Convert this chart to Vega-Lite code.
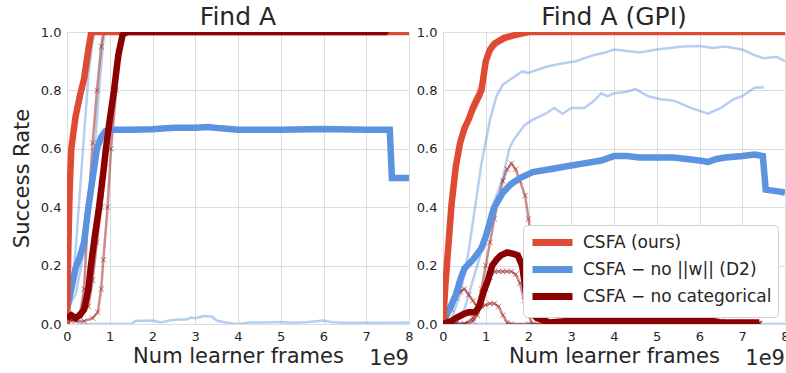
{
"$schema": "https://vega.github.io/schema/vega-lite/v6.json",
"padding": {"left": 10, "top": 4, "right": 0, "bottom": 0},
"bounds": "flush",
"spacing": 34,
"background": "white",
"config": {
 "font": "DejaVu Sans",
 "view": {"stroke": "#d4d4d4", "strokeWidth": 1},
 "axis": {"grid": true, "gridColor": "#dcdcdc", "domain": false, "ticks": false, "labelFontSize": 13, "labelColor": "#262626", "titleFontSize": 21, "titleFontWeight": "normal", "titleColor": "#262626", "labelPadding": 6, "labelFlush": false, "labelOverlap": false},
 "title": {"fontSize": 25, "fontWeight": "normal", "color": "#262626", "offset": -4},
 "legend": {"orient": "bottom-right", "offset": 7, "fillColor": "white", "strokeColor": "#d0d0d0", "cornerRadius": 4, "padding": 6, "symbolType": "M-1,0L4,0", "symbolSize": 256, "symbolStrokeWidth": 7, "labelFontSize": 17, "labelColor": "#262626", "labelLimit": 400, "rowPadding": -2, "labelOffset": 31, "symbolOpacity": 1}
},
"datasets": {"d": [
{"p":"A","m":"B","s":"b1","x":0,"y":0.05},{"p":"A","m":"B","s":"b1","x":0.1,"y":0.1},{"p":"A","m":"B","s":"b1","x":0.2,"y":0.25},{"p":"A","m":"B","s":"b1","x":0.3,"y":0.45},{"p":"A","m":"B","s":"b1","x":0.4,"y":0.65},{"p":"A","m":"B","s":"b1","x":0.5,"y":0.85},{"p":"A","m":"B","s":"b1","x":0.6,"y":0.97},{"p":"A","m":"B","s":"b1","x":0.65,"y":1},{"p":"A","m":"B","s":"b1","x":7.55,"y":1},
{"p":"A","m":"B","s":"b2","x":0,"y":0.05},{"p":"A","m":"B","s":"b2","x":0.2,"y":0.1},{"p":"A","m":"B","s":"b2","x":0.4,"y":0.25},{"p":"A","m":"B","s":"b2","x":0.6,"y":0.5},{"p":"A","m":"B","s":"b2","x":0.75,"y":0.8},{"p":"A","m":"B","s":"b2","x":0.85,"y":0.97},{"p":"A","m":"B","s":"b2","x":0.9,"y":1},{"p":"A","m":"B","s":"b2","x":8,"y":1},
{"p":"A","m":"B","s":"b3","x":0,"y":0.05},{"p":"A","m":"B","s":"b3","x":0.2,"y":0.01},{"p":"A","m":"B","s":"b3","x":0.4,"y":0},{"p":"A","m":"B","s":"b3","x":1.0,"y":0},{"p":"A","m":"B","s":"b3","x":1.5,"y":0},{"p":"A","m":"B","s":"b3","x":1.6,"y":0.01},{"p":"A","m":"B","s":"b3","x":2.0,"y":0.012},{"p":"A","m":"B","s":"b3","x":2.2,"y":0.005},{"p":"A","m":"B","s":"b3","x":2.4,"y":0.012},{"p":"A","m":"B","s":"b3","x":2.6,"y":0.015},{"p":"A","m":"B","s":"b3","x":2.8,"y":0.015},{"p":"A","m":"B","s":"b3","x":2.9,"y":0.022},{"p":"A","m":"B","s":"b3","x":3.0,"y":0.02},{"p":"A","m":"B","s":"b3","x":3.2,"y":0.027},{"p":"A","m":"B","s":"b3","x":3.4,"y":0.025},{"p":"A","m":"B","s":"b3","x":3.5,"y":0.012},{"p":"A","m":"B","s":"b3","x":3.7,"y":0.005},{"p":"A","m":"B","s":"b3","x":4.0,"y":0},{"p":"A","m":"B","s":"b3","x":4.3,"y":0.005},{"p":"A","m":"B","s":"b3","x":4.6,"y":0.005},{"p":"A","m":"B","s":"b3","x":5.0,"y":0.007},{"p":"A","m":"B","s":"b3","x":5.3,"y":0.004},{"p":"A","m":"B","s":"b3","x":5.6,"y":0.006},{"p":"A","m":"B","s":"b3","x":6.0,"y":0.012},{"p":"A","m":"B","s":"b3","x":6.2,"y":0.006},{"p":"A","m":"B","s":"b3","x":6.5,"y":0.004},{"p":"A","m":"B","s":"b3","x":7.0,"y":0.004},{"p":"A","m":"B","s":"b3","x":7.5,"y":0.004},{"p":"A","m":"B","s":"b3","x":8,"y":0.005},
{"p":"A","m":"B","s":"m","x":0,"y":0.05},{"p":"A","m":"B","s":"m","x":0.1,"y":0.12},{"p":"A","m":"B","s":"m","x":0.2,"y":0.19},{"p":"A","m":"B","s":"m","x":0.3,"y":0.23},{"p":"A","m":"B","s":"m","x":0.4,"y":0.28},{"p":"A","m":"B","s":"m","x":0.5,"y":0.4},{"p":"A","m":"B","s":"m","x":0.6,"y":0.5},{"p":"A","m":"B","s":"m","x":0.7,"y":0.6},{"p":"A","m":"B","s":"m","x":0.8,"y":0.64},{"p":"A","m":"B","s":"m","x":0.9,"y":0.66},{"p":"A","m":"B","s":"m","x":1.0,"y":0.665},{"p":"A","m":"B","s":"m","x":1.5,"y":0.665},{"p":"A","m":"B","s":"m","x":2.0,"y":0.667},{"p":"A","m":"B","s":"m","x":2.5,"y":0.672},{"p":"A","m":"B","s":"m","x":3.0,"y":0.672},{"p":"A","m":"B","s":"m","x":3.3,"y":0.675},{"p":"A","m":"B","s":"m","x":3.6,"y":0.67},{"p":"A","m":"B","s":"m","x":4.0,"y":0.665},{"p":"A","m":"B","s":"m","x":5.0,"y":0.665},{"p":"A","m":"B","s":"m","x":6.0,"y":0.668},{"p":"A","m":"B","s":"m","x":7.0,"y":0.665},{"p":"A","m":"B","s":"m","x":7.55,"y":0.665},{"p":"A","m":"B","s":"m","x":7.6,"y":0.5},{"p":"A","m":"B","s":"m","x":8,"y":0.5},
{"p":"A","m":"R","s":"r1","x":0,"y":0},{"p":"A","m":"R","s":"r1","x":0.03,"y":0.3},{"p":"A","m":"R","s":"r1","x":0.06,"y":0.5},{"p":"A","m":"R","s":"r1","x":0.1,"y":0.63},{"p":"A","m":"R","s":"r1","x":0.2,"y":0.72},{"p":"A","m":"R","s":"r1","x":0.3,"y":0.79},{"p":"A","m":"R","s":"r1","x":0.4,"y":0.85},{"p":"A","m":"R","s":"r1","x":0.5,"y":0.95},{"p":"A","m":"R","s":"r1","x":0.55,"y":1},{"p":"A","m":"R","s":"r1","x":8,"y":1},
{"p":"A","m":"R","s":"r2","x":0,"y":0},{"p":"A","m":"R","s":"r2","x":0.03,"y":0.2},{"p":"A","m":"R","s":"r2","x":0.06,"y":0.4},{"p":"A","m":"R","s":"r2","x":0.1,"y":0.55},{"p":"A","m":"R","s":"r2","x":0.2,"y":0.68},{"p":"A","m":"R","s":"r2","x":0.3,"y":0.76},{"p":"A","m":"R","s":"r2","x":0.4,"y":0.82},{"p":"A","m":"R","s":"r2","x":0.5,"y":0.9},{"p":"A","m":"R","s":"r2","x":0.6,"y":1},{"p":"A","m":"R","s":"r2","x":8,"y":1},
{"p":"A","m":"R","s":"r3","x":0,"y":0},{"p":"A","m":"R","s":"r3","x":0.03,"y":0.25},{"p":"A","m":"R","s":"r3","x":0.06,"y":0.45},{"p":"A","m":"R","s":"r3","x":0.1,"y":0.62},{"p":"A","m":"R","s":"r3","x":0.2,"y":0.74},{"p":"A","m":"R","s":"r3","x":0.3,"y":0.8},{"p":"A","m":"R","s":"r3","x":0.4,"y":0.86},{"p":"A","m":"R","s":"r3","x":0.5,"y":0.96},{"p":"A","m":"R","s":"r3","x":0.56,"y":1},{"p":"A","m":"R","s":"r3","x":8,"y":1},
{"p":"A","m":"R","s":"m","x":0,"y":0},{"p":"A","m":"R","s":"m","x":0.03,"y":0.25},{"p":"A","m":"R","s":"m","x":0.06,"y":0.45},{"p":"A","m":"R","s":"m","x":0.1,"y":0.6},{"p":"A","m":"R","s":"m","x":0.2,"y":0.71},{"p":"A","m":"R","s":"m","x":0.3,"y":0.78},{"p":"A","m":"R","s":"m","x":0.4,"y":0.84},{"p":"A","m":"R","s":"m","x":0.5,"y":0.94},{"p":"A","m":"R","s":"m","x":0.57,"y":1},{"p":"A","m":"R","s":"m","x":8,"y":1},
{"p":"A","m":"D","s":"d1","x":0,"y":0.02},{"p":"A","m":"D","s":"d1","x":0.1,"y":0.01},{"p":"A","m":"D","s":"d1","x":0.2,"y":0.02},{"p":"A","m":"D","s":"d1","x":0.3,"y":0.03},{"p":"A","m":"D","s":"d1","x":0.4,"y":0.12},{"p":"A","m":"D","s":"d1","x":0.5,"y":0.4},{"p":"A","m":"D","s":"d1","x":0.6,"y":0.62},{"p":"A","m":"D","s":"d1","x":0.7,"y":0.8},{"p":"A","m":"D","s":"d1","x":0.8,"y":0.95},{"p":"A","m":"D","s":"d1","x":0.85,"y":1},{"p":"A","m":"D","s":"d1","x":1.5,"y":1},{"p":"A","m":"D","s":"d1","x":2.5,"y":1},{"p":"A","m":"D","s":"d1","x":3.5,"y":1},{"p":"A","m":"D","s":"d1","x":4.5,"y":1},{"p":"A","m":"D","s":"d1","x":5.5,"y":1},{"p":"A","m":"D","s":"d1","x":6.5,"y":1},{"p":"A","m":"D","s":"d1","x":7.5,"y":1},
{"p":"A","m":"D","s":"d2","x":0,"y":0.02},{"p":"A","m":"D","s":"d2","x":0.2,"y":0.01},{"p":"A","m":"D","s":"d2","x":0.4,"y":0.01},{"p":"A","m":"D","s":"d2","x":0.6,"y":0.02},{"p":"A","m":"D","s":"d2","x":0.72,"y":0.04},{"p":"A","m":"D","s":"d2","x":0.8,"y":0.12},{"p":"A","m":"D","s":"d2","x":0.85,"y":0.22},{"p":"A","m":"D","s":"d2","x":0.95,"y":0.4},{"p":"A","m":"D","s":"d2","x":1.03,"y":0.6},{"p":"A","m":"D","s":"d2","x":1.15,"y":0.8},{"p":"A","m":"D","s":"d2","x":1.22,"y":0.92},{"p":"A","m":"D","s":"d2","x":1.28,"y":1},{"p":"A","m":"D","s":"d2","x":2,"y":1},{"p":"A","m":"D","s":"d2","x":3,"y":1},{"p":"A","m":"D","s":"d2","x":4,"y":1},{"p":"A","m":"D","s":"d2","x":5,"y":1},{"p":"A","m":"D","s":"d2","x":6,"y":1},{"p":"A","m":"D","s":"d2","x":7,"y":1},{"p":"A","m":"D","s":"d2","x":7.5,"y":1},
{"p":"A","m":"D","s":"d3","x":0,"y":0.03},{"p":"A","m":"D","s":"d3","x":0.3,"y":0.03},{"p":"A","m":"D","s":"d3","x":0.5,"y":0.06},{"p":"A","m":"D","s":"d3","x":0.6,"y":0.15},{"p":"A","m":"D","s":"d3","x":0.7,"y":0.28},{"p":"A","m":"D","s":"d3","x":0.8,"y":0.4},{"p":"A","m":"D","s":"d3","x":0.9,"y":0.55},{"p":"A","m":"D","s":"d3","x":1.0,"y":0.68},{"p":"A","m":"D","s":"d3","x":1.1,"y":0.8},{"p":"A","m":"D","s":"d3","x":1.2,"y":0.93},{"p":"A","m":"D","s":"d3","x":1.3,"y":1},{"p":"A","m":"D","s":"d3","x":2.2,"y":1},{"p":"A","m":"D","s":"d3","x":3.2,"y":1},{"p":"A","m":"D","s":"d3","x":4.2,"y":1},{"p":"A","m":"D","s":"d3","x":5.2,"y":1},{"p":"A","m":"D","s":"d3","x":6.2,"y":1},{"p":"A","m":"D","s":"d3","x":7.2,"y":1},
{"p":"A","m":"D","s":"m","x":0,"y":0.02},{"p":"A","m":"D","s":"m","x":0.1,"y":0.03},{"p":"A","m":"D","s":"m","x":0.2,"y":0.02},{"p":"A","m":"D","s":"m","x":0.3,"y":0.03},{"p":"A","m":"D","s":"m","x":0.4,"y":0.05},{"p":"A","m":"D","s":"m","x":0.5,"y":0.12},{"p":"A","m":"D","s":"m","x":0.56,"y":0.2},{"p":"A","m":"D","s":"m","x":0.65,"y":0.3},{"p":"A","m":"D","s":"m","x":0.75,"y":0.4},{"p":"A","m":"D","s":"m","x":0.85,"y":0.52},{"p":"A","m":"D","s":"m","x":0.91,"y":0.6},{"p":"A","m":"D","s":"m","x":1.0,"y":0.7},{"p":"A","m":"D","s":"m","x":1.1,"y":0.8},{"p":"A","m":"D","s":"m","x":1.2,"y":0.92},{"p":"A","m":"D","s":"m","x":1.3,"y":0.99},{"p":"A","m":"D","s":"m","x":1.4,"y":1},{"p":"A","m":"D","s":"m","x":2,"y":1},{"p":"A","m":"D","s":"m","x":2.5,"y":1},{"p":"A","m":"D","s":"m","x":3,"y":1},{"p":"A","m":"D","s":"m","x":3.5,"y":1},{"p":"A","m":"D","s":"m","x":4,"y":1},{"p":"A","m":"D","s":"m","x":4.5,"y":1},{"p":"A","m":"D","s":"m","x":5,"y":1},{"p":"A","m":"D","s":"m","x":5.5,"y":1},{"p":"A","m":"D","s":"m","x":6,"y":1},{"p":"A","m":"D","s":"m","x":6.5,"y":1},{"p":"A","m":"D","s":"m","x":7,"y":1},{"p":"A","m":"D","s":"m","x":7.5,"y":1},

{"p":"G","m":"B","s":"a","x":0,"y":0},{"p":"G","m":"B","s":"a","x":0.2,"y":0.02},{"p":"G","m":"B","s":"a","x":0.4,"y":0.1},{"p":"G","m":"B","s":"a","x":0.6,"y":0.25},{"p":"G","m":"B","s":"a","x":0.75,"y":0.4},{"p":"G","m":"B","s":"a","x":0.9,"y":0.55},{"p":"G","m":"B","s":"a","x":1.1,"y":0.7},{"p":"G","m":"B","s":"a","x":1.25,"y":0.78},{"p":"G","m":"B","s":"a","x":1.4,"y":0.82},{"p":"G","m":"B","s":"a","x":1.6,"y":0.84},{"p":"G","m":"B","s":"a","x":1.85,"y":0.865},{"p":"G","m":"B","s":"a","x":2.0,"y":0.86},{"p":"G","m":"B","s":"a","x":2.1,"y":0.865},{"p":"G","m":"B","s":"a","x":2.4,"y":0.88},{"p":"G","m":"B","s":"a","x":2.7,"y":0.89},{"p":"G","m":"B","s":"a","x":3.1,"y":0.9},{"p":"G","m":"B","s":"a","x":3.5,"y":0.92},{"p":"G","m":"B","s":"a","x":3.8,"y":0.93},{"p":"G","m":"B","s":"a","x":4.0,"y":0.94},{"p":"G","m":"B","s":"a","x":4.3,"y":0.935},{"p":"G","m":"B","s":"a","x":4.6,"y":0.93},{"p":"G","m":"B","s":"a","x":5.0,"y":0.94},{"p":"G","m":"B","s":"a","x":5.3,"y":0.945},{"p":"G","m":"B","s":"a","x":5.6,"y":0.95},{"p":"G","m":"B","s":"a","x":6.0,"y":0.952},{"p":"G","m":"B","s":"a","x":6.3,"y":0.945},{"p":"G","m":"B","s":"a","x":6.6,"y":0.95},{"p":"G","m":"B","s":"a","x":7.0,"y":0.94},{"p":"G","m":"B","s":"a","x":7.3,"y":0.92},{"p":"G","m":"B","s":"a","x":7.5,"y":0.91},{"p":"G","m":"B","s":"a","x":7.8,"y":0.915},{"p":"G","m":"B","s":"a","x":8,"y":0.9},
{"p":"G","m":"B","s":"b","x":0,"y":0},{"p":"G","m":"B","s":"b","x":0.3,"y":0},{"p":"G","m":"B","s":"b","x":0.5,"y":0.05},{"p":"G","m":"B","s":"b","x":0.7,"y":0.15},{"p":"G","m":"B","s":"b","x":0.9,"y":0.25},{"p":"G","m":"B","s":"b","x":1.1,"y":0.38},{"p":"G","m":"B","s":"b","x":1.4,"y":0.5},{"p":"G","m":"B","s":"b","x":1.55,"y":0.6},{"p":"G","m":"B","s":"b","x":1.65,"y":0.63},{"p":"G","m":"B","s":"b","x":1.75,"y":0.65},{"p":"G","m":"B","s":"b","x":1.9,"y":0.68},{"p":"G","m":"B","s":"b","x":2.1,"y":0.7},{"p":"G","m":"B","s":"b","x":2.4,"y":0.72},{"p":"G","m":"B","s":"b","x":2.6,"y":0.74},{"p":"G","m":"B","s":"b","x":2.8,"y":0.72},{"p":"G","m":"B","s":"b","x":3.0,"y":0.74},{"p":"G","m":"B","s":"b","x":3.3,"y":0.74},{"p":"G","m":"B","s":"b","x":3.5,"y":0.76},{"p":"G","m":"B","s":"b","x":3.7,"y":0.79},{"p":"G","m":"B","s":"b","x":3.85,"y":0.78},{"p":"G","m":"B","s":"b","x":4.0,"y":0.79},{"p":"G","m":"B","s":"b","x":4.3,"y":0.795},{"p":"G","m":"B","s":"b","x":4.5,"y":0.805},{"p":"G","m":"B","s":"b","x":4.8,"y":0.78},{"p":"G","m":"B","s":"b","x":5.1,"y":0.77},{"p":"G","m":"B","s":"b","x":5.4,"y":0.765},{"p":"G","m":"B","s":"b","x":5.8,"y":0.74},{"p":"G","m":"B","s":"b","x":6.0,"y":0.73},{"p":"G","m":"B","s":"b","x":6.2,"y":0.72},{"p":"G","m":"B","s":"b","x":6.5,"y":0.74},{"p":"G","m":"B","s":"b","x":6.8,"y":0.77},{"p":"G","m":"B","s":"b","x":7.0,"y":0.78},{"p":"G","m":"B","s":"b","x":7.3,"y":0.81},{"p":"G","m":"B","s":"b","x":7.5,"y":0.81},
{"p":"G","m":"B","s":"c","x":0,"y":0.01},{"p":"G","m":"B","s":"c","x":0.5,"y":0},{"p":"G","m":"B","s":"c","x":8,"y":0},
{"p":"G","m":"B","s":"m","x":0,"y":0.02},{"p":"G","m":"B","s":"m","x":0.15,"y":0.05},{"p":"G","m":"B","s":"m","x":0.3,"y":0.1},{"p":"G","m":"B","s":"m","x":0.4,"y":0.15},{"p":"G","m":"B","s":"m","x":0.5,"y":0.19},{"p":"G","m":"B","s":"m","x":0.7,"y":0.22},{"p":"G","m":"B","s":"m","x":0.9,"y":0.26},{"p":"G","m":"B","s":"m","x":1.0,"y":0.3},{"p":"G","m":"B","s":"m","x":1.1,"y":0.35},{"p":"G","m":"B","s":"m","x":1.2,"y":0.4},{"p":"G","m":"B","s":"m","x":1.4,"y":0.45},{"p":"G","m":"B","s":"m","x":1.6,"y":0.48},{"p":"G","m":"B","s":"m","x":1.8,"y":0.5},{"p":"G","m":"B","s":"m","x":2.1,"y":0.52},{"p":"G","m":"B","s":"m","x":2.5,"y":0.53},{"p":"G","m":"B","s":"m","x":2.9,"y":0.54},{"p":"G","m":"B","s":"m","x":3.3,"y":0.55},{"p":"G","m":"B","s":"m","x":3.7,"y":0.56},{"p":"G","m":"B","s":"m","x":4.0,"y":0.575},{"p":"G","m":"B","s":"m","x":4.3,"y":0.575},{"p":"G","m":"B","s":"m","x":4.6,"y":0.57},{"p":"G","m":"B","s":"m","x":5.0,"y":0.57},{"p":"G","m":"B","s":"m","x":5.4,"y":0.57},{"p":"G","m":"B","s":"m","x":5.7,"y":0.565},{"p":"G","m":"B","s":"m","x":6.0,"y":0.56},{"p":"G","m":"B","s":"m","x":6.2,"y":0.555},{"p":"G","m":"B","s":"m","x":6.4,"y":0.565},{"p":"G","m":"B","s":"m","x":6.6,"y":0.57},{"p":"G","m":"B","s":"m","x":7.0,"y":0.575},{"p":"G","m":"B","s":"m","x":7.3,"y":0.58},{"p":"G","m":"B","s":"m","x":7.48,"y":0.575},{"p":"G","m":"B","s":"m","x":7.55,"y":0.46},{"p":"G","m":"B","s":"m","x":7.8,"y":0.455},{"p":"G","m":"B","s":"m","x":8,"y":0.45},
{"p":"G","m":"R","s":"r1","x":0,"y":0},{"p":"G","m":"R","s":"r1","x":0.05,"y":0.15},{"p":"G","m":"R","s":"r1","x":0.1,"y":0.28},{"p":"G","m":"R","s":"r1","x":0.2,"y":0.45},{"p":"G","m":"R","s":"r1","x":0.3,"y":0.56},{"p":"G","m":"R","s":"r1","x":0.4,"y":0.63},{"p":"G","m":"R","s":"r1","x":0.5,"y":0.68},{"p":"G","m":"R","s":"r1","x":0.6,"y":0.72},{"p":"G","m":"R","s":"r1","x":0.7,"y":0.76},{"p":"G","m":"R","s":"r1","x":0.8,"y":0.79},{"p":"G","m":"R","s":"r1","x":0.9,"y":0.83},{"p":"G","m":"R","s":"r1","x":1.0,"y":0.92},{"p":"G","m":"R","s":"r1","x":1.1,"y":0.95},{"p":"G","m":"R","s":"r1","x":1.3,"y":0.97},{"p":"G","m":"R","s":"r1","x":1.6,"y":0.99},{"p":"G","m":"R","s":"r1","x":2.0,"y":1},{"p":"G","m":"R","s":"r1","x":8,"y":1},
{"p":"G","m":"R","s":"r2","x":0,"y":0},{"p":"G","m":"R","s":"r2","x":0.05,"y":0.08},{"p":"G","m":"R","s":"r2","x":0.1,"y":0.16},{"p":"G","m":"R","s":"r2","x":0.2,"y":0.35},{"p":"G","m":"R","s":"r2","x":0.3,"y":0.5},{"p":"G","m":"R","s":"r2","x":0.4,"y":0.6},{"p":"G","m":"R","s":"r2","x":0.5,"y":0.65},{"p":"G","m":"R","s":"r2","x":0.6,"y":0.69},{"p":"G","m":"R","s":"r2","x":0.7,"y":0.72},{"p":"G","m":"R","s":"r2","x":0.8,"y":0.75},{"p":"G","m":"R","s":"r2","x":0.9,"y":0.78},{"p":"G","m":"R","s":"r2","x":1.0,"y":0.88},{"p":"G","m":"R","s":"r2","x":1.1,"y":0.93},{"p":"G","m":"R","s":"r2","x":1.3,"y":0.96},{"p":"G","m":"R","s":"r2","x":1.6,"y":0.98},{"p":"G","m":"R","s":"r2","x":2.0,"y":0.995},{"p":"G","m":"R","s":"r2","x":2.3,"y":1},{"p":"G","m":"R","s":"r2","x":8,"y":1},
{"p":"G","m":"R","s":"r3","x":0,"y":0},{"p":"G","m":"R","s":"r3","x":0.05,"y":0.12},{"p":"G","m":"R","s":"r3","x":0.1,"y":0.22},{"p":"G","m":"R","s":"r3","x":0.2,"y":0.42},{"p":"G","m":"R","s":"r3","x":0.3,"y":0.55},{"p":"G","m":"R","s":"r3","x":0.4,"y":0.62},{"p":"G","m":"R","s":"r3","x":0.5,"y":0.67},{"p":"G","m":"R","s":"r3","x":0.6,"y":0.7},{"p":"G","m":"R","s":"r3","x":0.7,"y":0.73},{"p":"G","m":"R","s":"r3","x":0.8,"y":0.76},{"p":"G","m":"R","s":"r3","x":0.9,"y":0.8},{"p":"G","m":"R","s":"r3","x":1.0,"y":0.9},{"p":"G","m":"R","s":"r3","x":1.1,"y":0.94},{"p":"G","m":"R","s":"r3","x":1.3,"y":0.97},{"p":"G","m":"R","s":"r3","x":1.6,"y":0.985},{"p":"G","m":"R","s":"r3","x":2.0,"y":1},{"p":"G","m":"R","s":"r3","x":8,"y":1},
{"p":"G","m":"R","s":"m","x":0,"y":0},{"p":"G","m":"R","s":"m","x":0.05,"y":0.12},{"p":"G","m":"R","s":"m","x":0.1,"y":0.22},{"p":"G","m":"R","s":"m","x":0.2,"y":0.41},{"p":"G","m":"R","s":"m","x":0.3,"y":0.54},{"p":"G","m":"R","s":"m","x":0.4,"y":0.62},{"p":"G","m":"R","s":"m","x":0.5,"y":0.67},{"p":"G","m":"R","s":"m","x":0.6,"y":0.7},{"p":"G","m":"R","s":"m","x":0.7,"y":0.74},{"p":"G","m":"R","s":"m","x":0.8,"y":0.77},{"p":"G","m":"R","s":"m","x":0.9,"y":0.8},{"p":"G","m":"R","s":"m","x":1.0,"y":0.9},{"p":"G","m":"R","s":"m","x":1.1,"y":0.94},{"p":"G","m":"R","s":"m","x":1.2,"y":0.96},{"p":"G","m":"R","s":"m","x":1.43,"y":0.98},{"p":"G","m":"R","s":"m","x":1.7,"y":0.99},{"p":"G","m":"R","s":"m","x":2.0,"y":1},{"p":"G","m":"R","s":"m","x":8,"y":1},
{"p":"G","m":"D","s":"s1","x":0,"y":0},{"p":"G","m":"D","s":"s1","x":0.3,"y":0},{"p":"G","m":"D","s":"s1","x":0.5,"y":0},{"p":"G","m":"D","s":"s1","x":0.7,"y":0.02},{"p":"G","m":"D","s":"s1","x":0.8,"y":0.06},{"p":"G","m":"D","s":"s1","x":0.9,"y":0.12},{"p":"G","m":"D","s":"s1","x":1.0,"y":0.2},{"p":"G","m":"D","s":"s1","x":1.1,"y":0.28},{"p":"G","m":"D","s":"s1","x":1.2,"y":0.36},{"p":"G","m":"D","s":"s1","x":1.3,"y":0.43},{"p":"G","m":"D","s":"s1","x":1.4,"y":0.49},{"p":"G","m":"D","s":"s1","x":1.5,"y":0.53},{"p":"G","m":"D","s":"s1","x":1.6,"y":0.55},{"p":"G","m":"D","s":"s1","x":1.7,"y":0.53},{"p":"G","m":"D","s":"s1","x":1.8,"y":0.49},{"p":"G","m":"D","s":"s1","x":1.92,"y":0.44},{"p":"G","m":"D","s":"s1","x":2.0,"y":0.36},{"p":"G","m":"D","s":"s1","x":2.1,"y":0.25},{"p":"G","m":"D","s":"s1","x":2.2,"y":0.13},{"p":"G","m":"D","s":"s1","x":2.3,"y":0.05},{"p":"G","m":"D","s":"s1","x":2.4,"y":0.02},{"p":"G","m":"D","s":"s1","x":2.5,"y":0},{"p":"G","m":"D","s":"s1","x":3,"y":0},{"p":"G","m":"D","s":"s1","x":3.5,"y":0.005},{"p":"G","m":"D","s":"s1","x":4,"y":0},{"p":"G","m":"D","s":"s1","x":4.5,"y":0.01},{"p":"G","m":"D","s":"s1","x":5,"y":0},{"p":"G","m":"D","s":"s1","x":5.5,"y":0.005},{"p":"G","m":"D","s":"s1","x":6,"y":0},{"p":"G","m":"D","s":"s1","x":6.5,"y":0},{"p":"G","m":"D","s":"s1","x":7,"y":0},{"p":"G","m":"D","s":"s1","x":7.4,"y":0},
{"p":"G","m":"D","s":"s2","x":0,"y":0},{"p":"G","m":"D","s":"s2","x":0.3,"y":0},{"p":"G","m":"D","s":"s2","x":0.5,"y":0},{"p":"G","m":"D","s":"s2","x":0.7,"y":0.01},{"p":"G","m":"D","s":"s2","x":0.8,"y":0.03},{"p":"G","m":"D","s":"s2","x":0.9,"y":0.07},{"p":"G","m":"D","s":"s2","x":1.0,"y":0.12},{"p":"G","m":"D","s":"s2","x":1.1,"y":0.16},{"p":"G","m":"D","s":"s2","x":1.2,"y":0.18},{"p":"G","m":"D","s":"s2","x":1.3,"y":0.18},{"p":"G","m":"D","s":"s2","x":1.4,"y":0.18},{"p":"G","m":"D","s":"s2","x":1.5,"y":0.18},{"p":"G","m":"D","s":"s2","x":1.6,"y":0.18},{"p":"G","m":"D","s":"s2","x":1.7,"y":0.17},{"p":"G","m":"D","s":"s2","x":1.8,"y":0.14},{"p":"G","m":"D","s":"s2","x":1.9,"y":0.08},{"p":"G","m":"D","s":"s2","x":2.0,"y":0.03},{"p":"G","m":"D","s":"s2","x":2.1,"y":0},{"p":"G","m":"D","s":"s2","x":2.5,"y":0},{"p":"G","m":"D","s":"s2","x":3,"y":0.01},{"p":"G","m":"D","s":"s2","x":3.5,"y":0.02},{"p":"G","m":"D","s":"s2","x":4,"y":0.01},{"p":"G","m":"D","s":"s2","x":4.5,"y":0.01},{"p":"G","m":"D","s":"s2","x":5,"y":0.005},{"p":"G","m":"D","s":"s2","x":5.5,"y":0.01},{"p":"G","m":"D","s":"s2","x":6,"y":0.01},{"p":"G","m":"D","s":"s2","x":6.5,"y":0.005},{"p":"G","m":"D","s":"s2","x":7,"y":0.005},{"p":"G","m":"D","s":"s2","x":7.4,"y":0},
{"p":"G","m":"D","s":"s3","x":0,"y":0},{"p":"G","m":"D","s":"s3","x":0.1,"y":0.02},{"p":"G","m":"D","s":"s3","x":0.2,"y":0.05},{"p":"G","m":"D","s":"s3","x":0.3,"y":0.09},{"p":"G","m":"D","s":"s3","x":0.4,"y":0.11},{"p":"G","m":"D","s":"s3","x":0.5,"y":0.12},{"p":"G","m":"D","s":"s3","x":0.6,"y":0.1},{"p":"G","m":"D","s":"s3","x":0.7,"y":0.08},{"p":"G","m":"D","s":"s3","x":0.8,"y":0.06},{"p":"G","m":"D","s":"s3","x":0.9,"y":0.06},{"p":"G","m":"D","s":"s3","x":1.0,"y":0.065},{"p":"G","m":"D","s":"s3","x":1.1,"y":0.07},{"p":"G","m":"D","s":"s3","x":1.2,"y":0.07},{"p":"G","m":"D","s":"s3","x":1.3,"y":0.06},{"p":"G","m":"D","s":"s3","x":1.4,"y":0.03},{"p":"G","m":"D","s":"s3","x":1.5,"y":0.005},{"p":"G","m":"D","s":"s3","x":1.6,"y":0},{"p":"G","m":"D","s":"s3","x":2.0,"y":0},{"p":"G","m":"D","s":"s3","x":2.5,"y":0},{"p":"G","m":"D","s":"s3","x":3,"y":0.01},{"p":"G","m":"D","s":"s3","x":3.5,"y":0.01},{"p":"G","m":"D","s":"s3","x":4,"y":0.02},{"p":"G","m":"D","s":"s3","x":4.5,"y":0.01},{"p":"G","m":"D","s":"s3","x":5,"y":0.01},{"p":"G","m":"D","s":"s3","x":5.5,"y":0.01},{"p":"G","m":"D","s":"s3","x":6,"y":0.01},{"p":"G","m":"D","s":"s3","x":6.5,"y":0.01},{"p":"G","m":"D","s":"s3","x":7,"y":0.005},{"p":"G","m":"D","s":"s3","x":7.4,"y":0},
{"p":"G","m":"D","s":"m","x":0,"y":0},{"p":"G","m":"D","s":"m","x":0.2,"y":0.01},{"p":"G","m":"D","s":"m","x":0.3,"y":0.02},{"p":"G","m":"D","s":"m","x":0.5,"y":0.035},{"p":"G","m":"D","s":"m","x":0.6,"y":0.04},{"p":"G","m":"D","s":"m","x":0.75,"y":0.04},{"p":"G","m":"D","s":"m","x":0.85,"y":0.06},{"p":"G","m":"D","s":"m","x":0.95,"y":0.11},{"p":"G","m":"D","s":"m","x":1.05,"y":0.15},{"p":"G","m":"D","s":"m","x":1.15,"y":0.2},{"p":"G","m":"D","s":"m","x":1.25,"y":0.22},{"p":"G","m":"D","s":"m","x":1.35,"y":0.235},{"p":"G","m":"D","s":"m","x":1.5,"y":0.245},{"p":"G","m":"D","s":"m","x":1.65,"y":0.24},{"p":"G","m":"D","s":"m","x":1.75,"y":0.235},{"p":"G","m":"D","s":"m","x":1.85,"y":0.2},{"p":"G","m":"D","s":"m","x":1.95,"y":0.1},{"p":"G","m":"D","s":"m","x":2.05,"y":0.04},{"p":"G","m":"D","s":"m","x":2.2,"y":0.02},{"p":"G","m":"D","s":"m","x":2.5,"y":0.005},{"p":"G","m":"D","s":"m","x":2.9,"y":0.01},{"p":"G","m":"D","s":"m","x":3.5,"y":0.01},{"p":"G","m":"D","s":"m","x":4,"y":0.012},{"p":"G","m":"D","s":"m","x":4.5,"y":0.01},{"p":"G","m":"D","s":"m","x":5,"y":0.01},{"p":"G","m":"D","s":"m","x":5.5,"y":0.01},{"p":"G","m":"D","s":"m","x":6,"y":0.01},{"p":"G","m":"D","s":"m","x":6.3,"y":0.01},{"p":"G","m":"D","s":"m","x":6.5,"y":0.005},{"p":"G","m":"D","s":"m","x":7,"y":0.005},{"p":"G","m":"D","s":"m","x":7.4,"y":0.005}
]},
"hconcat": [
 {
  "width": 342, "height": 292,
  "title": "Find A",
  "data": {"name": "d"},
  "encoding": {
   "x": {"field": "x", "type": "quantitative", "scale": {"domain": [0, 8], "nice": false}, "axis": {"values": [0,1,2,3,4,5,6,7,8], "format": "d", "title": "Num learner frames", "titlePadding": 2}},
   "y": {"field": "y", "type": "quantitative", "scale": {"domain": [0, 1], "nice": false}, "axis": {"values": [0,0.2,0.4,0.6,0.8,1.0], "format": ".1f", "title": "Success Rate", "titlePadding": 8}}
  },
  "layer": [
   {"transform": [{"filter": "datum.p=='A' && datum.s!='m'"}], "mark": {"type": "line", "strokeWidth": 2.5, "opacity": 0.45, "clip": true},
    "encoding": {"color": {"field": "m", "type": "nominal", "scale": {"domain": ["R","B","D"], "range": ["#df4a34","#5b93e1","#8b0000"]}, "legend": null}, "detail": {"field": "s"}}},
   {"transform": [{"filter": "datum.p=='A' && datum.s!='m' && datum.m=='D'"}], "mark": {"type": "point", "shape": "M-1,-1L1,1M-1,1L1,-1", "filled": false, "strokeWidth": 1, "size": 30, "opacity": 0.5, "color": "#8b0000", "clip": true}},
   {"transform": [{"filter": "datum.p=='A' && datum.s=='m'"}], "mark": {"type": "line", "strokeWidth": 6.5, "clip": true},
    "encoding": {"color": {"field": "m", "type": "nominal", "scale": {"domain": ["R","B","D"], "range": ["#df4a34","#5b93e1","#8b0000"]}, "legend": null}, "detail": {"field": "s"}}},
   {"transform": [{"filter": "datum.p=='A' && datum.s=='m' && datum.m=='D'"}], "mark": {"type": "point", "shape": "M-1,-1L1,1M-1,1L1,-1", "filled": false, "strokeWidth": 1, "size": 14, "opacity": 0.8, "color": "#8b0000", "clip": true}},
   {"data": {"values": [{"x": 8, "y": 0, "lab": "1e9"}]}, "mark": {"type": "text", "align": "right", "baseline": "alphabetic", "dy": 41, "fontSize": 21, "color": "#262626"},
    "encoding": {"text": {"field": "lab"}}}
  ]
 },
 {
  "width": 342, "height": 292,
  "title": "Find A (GPI)",
  "data": {"name": "d"},
  "encoding": {
   "x": {"field": "x", "type": "quantitative", "scale": {"domain": [0, 8], "nice": false}, "axis": {"values": [0,1,2,3,4,5,6,7,8], "format": "d", "title": "Num learner frames", "titlePadding": 2}},
   "y": {"field": "y", "type": "quantitative", "scale": {"domain": [0, 1], "nice": false}, "axis": {"values": [0,0.2,0.4,0.6,0.8,1.0], "format": ".1f", "title": null}}
  },
  "layer": [
   {"transform": [{"filter": "datum.p=='G' && datum.s!='m'"}], "mark": {"type": "line", "strokeWidth": 2.5, "opacity": 0.45, "clip": true},
    "encoding": {"color": {"field": "m", "type": "nominal", "scale": {"domain": ["R","B","D"], "range": ["#df4a34","#5b93e1","#8b0000"]},
      "legend": {"title": null, "labelExpr": "datum.label=='R' ? 'CSFA (ours)' : datum.label=='B' ? 'CSFA − no ||w|| (D2)' : 'CSFA − no categorical'"}}, "detail": {"field": "s"}}},
   {"transform": [{"filter": "datum.p=='G' && datum.s!='m' && datum.m=='D'"}], "mark": {"type": "point", "shape": "M-1,-1L1,1M-1,1L1,-1", "filled": false, "strokeWidth": 1, "size": 30, "opacity": 0.5, "color": "#8b0000", "clip": true}},
   {"transform": [{"filter": "datum.p=='G' && datum.s=='m'"}], "mark": {"type": "line", "strokeWidth": 6.5, "clip": true},
    "encoding": {"color": {"field": "m", "type": "nominal", "scale": {"domain": ["R","B","D"], "range": ["#df4a34","#5b93e1","#8b0000"]},
      "legend": {"title": null, "labelExpr": "datum.label=='R' ? 'CSFA (ours)' : datum.label=='B' ? 'CSFA − no ||w|| (D2)' : 'CSFA − no categorical'"}}, "detail": {"field": "s"}}},
   {"transform": [{"filter": "datum.p=='G' && datum.s=='m' && datum.m=='D'"}], "mark": {"type": "point", "shape": "M-1,-1L1,1M-1,1L1,-1", "filled": false, "strokeWidth": 1, "size": 14, "opacity": 0.8, "color": "#8b0000", "clip": true}},
   {"data": {"values": [{"x": 8, "y": 0, "lab": "1e9"}]}, "mark": {"type": "text", "align": "right", "baseline": "alphabetic", "dy": 41, "fontSize": 21, "color": "#262626"},
    "encoding": {"text": {"field": "lab"}}}
  ]
 }
],
"resolve": {"scale": {"color": "independent"}, "legend": {"color": "independent"}}
}
